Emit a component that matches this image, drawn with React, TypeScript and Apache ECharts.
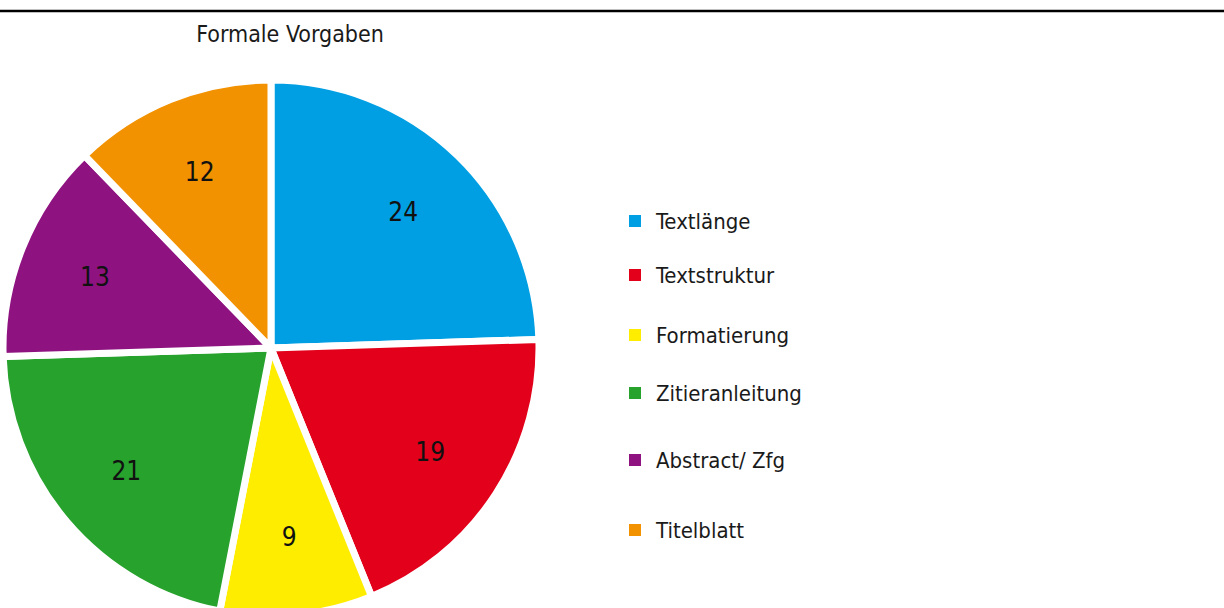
import React, { useEffect, useRef } from "react";
import * as echarts from "echarts";

const categories = ["Textlänge", "Textstruktur", "Formatierung", "Zitieranleitung", "Abstract/ Zfg", "Titelblatt"];
const values = [24, 19, 9, 21, 13, 12];
const colors = ["#009FE3", "#E2001A", "#FFED00", "#27A22D", "#8E1380", "#F39200"];
const legendCenters = [216, 270, 330, 388, 455, 525];
const titleText = "Formale Vorgaben";

const FONT = "'Liberation Sans Narrow', 'DejaVu Sans Condensed', 'Arial Narrow', sans-serif";

export default function App() {
  const ref = useRef<HTMLDivElement>(null);
  useEffect(() => {
    if (!ref.current) return;
    const chart = echarts.init(ref.current, undefined, { renderer: "svg" });
    const data = categories.map((name, i) => ({
      name,
      value: values[i],
      itemStyle: { color: colors[i] },
    }));
    const legends = categories.map((name, i) => ({
      orient: "vertical",
      left: 622,
      top: legendCenters[i] - 12,
      icon: "rect",
      itemWidth: 14,
      itemHeight: 14,
      selectedMode: false,
      data: [{ name, itemStyle: { color: colors[i] } }],
      textStyle: {
        fontFamily: FONT,
        fontSize: 22,
        color: "#1a1a1a",
        lineHeight: 24,
        padding: [0, 0, 0, 9],
      },
    }));
    chart.setOption({
      animation: false,
      backgroundColor: "#ffffff",
      title: {
        text: titleText,
        left: 285,
        textAlign: "center",
        top: 17,
        textStyle: { fontFamily: FONT, fontSize: 23, fontWeight: "normal", color: "#1a1a1a" },
      },
      legend: legends,
      graphic: [
        {
          type: "line",
          shape: { x1: 0, y1: 11, x2: 1224, y2: 11 },
          style: { stroke: "#000000", lineWidth: 2.5 },
          silent: true,
        },
      ],
      series: [
        {
          type: "pie",
          center: [271, 348],
          radius: [0, 268],
          startAngle: 90,
          clockwise: true,
          silent: true,
          itemStyle: { borderColor: "#ffffff", borderWidth: 7 },
          label: { show: false },
          labelLine: { show: false },
          data,
        },
        {
          type: "pie",
          center: [271, 348],
          radius: [112, 262],
          startAngle: 90,
          clockwise: true,
          silent: true,
          itemStyle: { color: "transparent", borderWidth: 0 },
          label: {
            show: true,
            position: "inside",
            formatter: "{c}",
            fontFamily: FONT,
            fontSize: 26,
            color: "#111111",
          },
          labelLine: { show: false },
          data: categories.map((name, i) => ({ name, value: values[i] })),
        },
      ],
    });
    return () => chart.dispose();
  }, []);
  return (
    <div
      ref={ref}
      style={{ position: "fixed", left: 0, top: 0, width: 1224, height: 608 }}
    />
  );
}
